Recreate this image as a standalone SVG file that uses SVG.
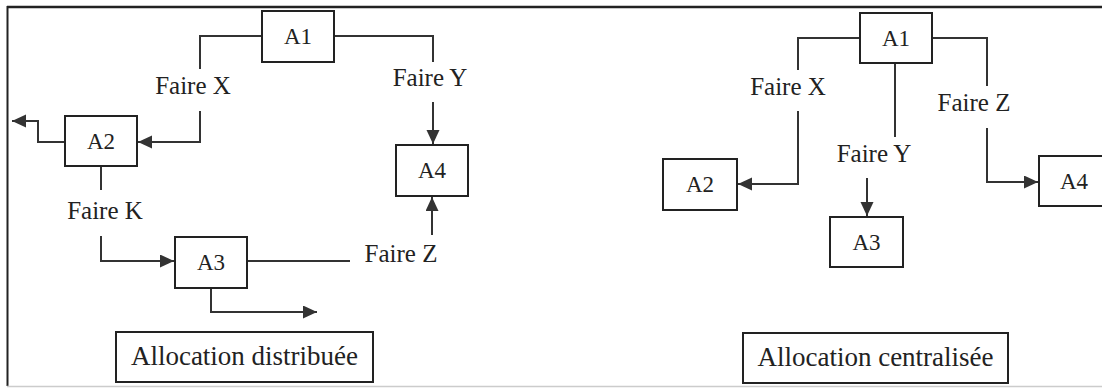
<svg xmlns="http://www.w3.org/2000/svg" width="1102" height="389" viewBox="0 0 1102 389">
<style>
.box{fill:#fff;stroke:#222;stroke-width:2}
.ln{fill:none;stroke:#333;stroke-width:2}
.nt{font-family:"Liberation Serif",serif;font-size:23px;fill:#222;text-anchor:middle}
.lb{font-family:"Liberation Serif",serif;font-size:25px;fill:#222;text-anchor:middle}
.tt{font-family:"Liberation Serif",serif;font-size:27px;fill:#222;text-anchor:middle}
</style>
<defs>
<marker id="ah" markerUnits="userSpaceOnUse" markerWidth="15" markerHeight="14" refX="14" refY="6.5" orient="auto">
<path d="M0,0 L14,6.5 L0,13 z" fill="#333"/>
</marker>
</defs>
<rect width="1102" height="389" fill="#fff"/>
<g id="frame">
<line x1="7" y1="7" x2="1102" y2="7" stroke="#222" stroke-width="2.5"/>
<line x1="7.5" y1="6" x2="7.5" y2="386" stroke="#222" stroke-width="2"/>
<line x1="7" y1="386.5" x2="1102" y2="386.5" stroke="#ccc" stroke-width="1.5"/>
</g>
<g id="connectors">
<path class="ln" d="M262,36 H200 V69"/>
<path class="ln" d="M200,111 V142 H138" marker-end="url(#ah)"/>
<path class="ln" d="M65,142 H38 V121 H12" marker-end="url(#ah)"/>
<path class="ln" d="M334,36 H433 V62"/>
<path class="ln" d="M433,102 V144" marker-end="url(#ah)"/>
<path class="ln" d="M101,166 V190"/>
<path class="ln" d="M101,236 V261 H174" marker-end="url(#ah)"/>
<path class="ln" d="M247,261 H350"/>
<path class="ln" d="M432,235 V197" marker-end="url(#ah)"/>
<path class="ln" d="M211,288 V312 H317" marker-end="url(#ah)"/>
<path class="ln" d="M860,38 H798 V70"/>
<path class="ln" d="M798,111 V184 H738" marker-end="url(#ah)"/>
<path class="ln" d="M895,63 V137"/>
<path class="ln" d="M867,178 V216" marker-end="url(#ah)"/>
<path class="ln" d="M932,38 H987 V86"/>
<path class="ln" d="M987,128 V182 H1038" marker-end="url(#ah)"/>
</g>
<g id="labels">
<text class="lb" x="193" y="94">Faire X</text>
<text class="lb" x="430" y="86">Faire Y</text>
<text class="lb" x="105" y="219">Faire K</text>
<text class="lb" x="401" y="262">Faire Z</text>
<text class="lb" x="788" y="95">Faire X</text>
<text class="lb" x="874" y="162">Faire Y</text>
<text class="lb" x="974" y="111">Faire Z</text>
</g>
<g id="L-A1"><rect class="box" x="262" y="11" width="72" height="51"/><text class="nt" x="298" y="44">A1</text></g>
<g id="L-A2"><rect class="box" x="65" y="116" width="72" height="50"/><text class="nt" x="101" y="149">A2</text></g>
<g id="L-A3"><rect class="box" x="175" y="237" width="72" height="51"/><text class="nt" x="211" y="270">A3</text></g>
<g id="L-A4"><rect class="box" x="396" y="145" width="72" height="51"/><text class="nt" x="432" y="178">A4</text></g>
<g id="L-title"><rect class="box" x="116" y="332" width="257" height="50"/><text class="tt" x="244.5" y="365">Allocation distribuée</text></g>
<g id="R-A1"><rect class="box" x="860" y="13" width="72" height="50"/><text class="nt" x="896" y="46">A1</text></g>
<g id="R-A2"><rect class="box" x="663" y="159" width="74" height="51"/><text class="nt" x="700" y="192">A2</text></g>
<g id="R-A3"><rect class="box" x="830" y="217" width="73" height="50"/><text class="nt" x="866.5" y="250">A3</text></g>
<g id="R-A4"><rect class="box" x="1039" y="156" width="80" height="50"/><text class="nt" x="1074" y="189">A4</text></g>
<g id="R-title"><rect class="box" x="743" y="333" width="265" height="50"/><text class="tt" x="875.5" y="366">Allocation centralisée</text></g>
</svg>
